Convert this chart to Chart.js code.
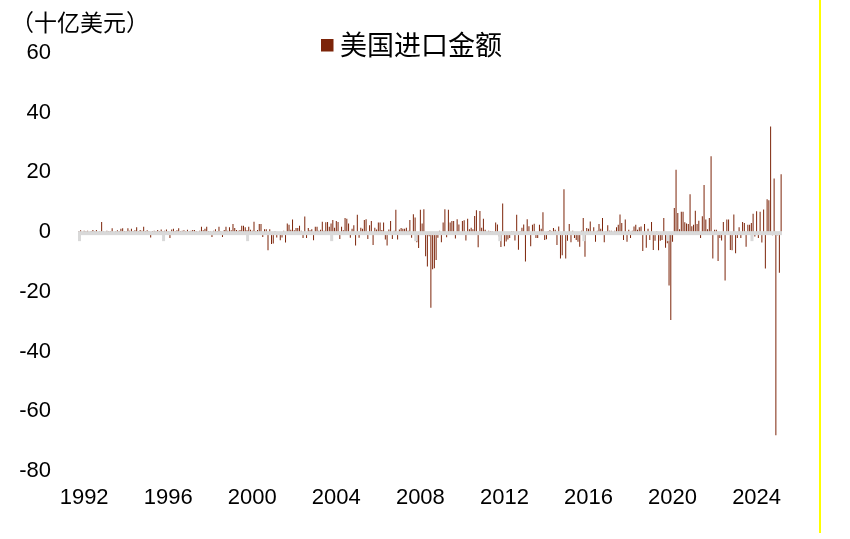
<!DOCTYPE html>
<html>
<head>
<meta charset="utf-8">
<script src="https://cdn.jsdelivr.net/npm/chart.js@4/dist/chart.umd.min.js"></script>
<style>
  html, body { margin: 0; padding: 0; background: #fff; }
  canvas { display: block; }
</style>
</head>
<body>
<canvas id="chart" width="850" height="539"></canvas>
<script>
// monthly change of US imports, billion USD
const imports1990s = [
  0.4, 0.6, -0.2, 0.5, 0.3, 0.5, -0.3, 0.4, 0.7, 0.3, 0.7, -0.3,   // 1992
  0.3, 3.4, 0.2, -0.4, 0.5, 0.3, 0.4, 1.3, -0.3, 0.3, 0.6, 0.4,    // 1993
  1.1, 1.3, 0.4, 0.3, 1.3, 0.5, 1.1, 0.4, 0.6, 1.6, 0.3, 0.7,      // 1994
  0.5, 1.8, 0.4, 0.6, 0.3, -1.8, 0.4, 0.5, 0.3, 0.7, 0.4, 0.9,     // 1995
  0.4, 0.5, 0.9, 0.3, -2.0, 0.9, 1.1, 0.4, 0.6, 1.3, 0.4, 0.5,     // 1996
  0.6, 0.4, 0.8, 0.3, 0.5, 0.7, 0.7, 0.4, -0.3, 0.5, 1.8, 0.6,     // 1997
  1.1, 1.8, 0.4, 0.3, -1.6, 0.5, 1.0, 0.4, 1.8, 0.3, -1.6, 0.7,    // 1998
  1.8, 0.5, 1.6, 0.6, 2.7, 1.4, 0.7, 0.5, 0.7, 2.1, 2.1, 1.6       // 1999
];
const imports2000s = [
  0.6, 1.8, 0.8, 0.5, 3.5, 0.4, 0.7, 2.7, 2.7, -1.6, 1.0, 1.0,             // 2000
  -6.1, 1.0, -4.0, -3.8, 0.3, -1.8, -0.5, -2.7, -1.8, 0.5, -3.5, 2.9,      // 2001
  2.5, 0.8, 4.2, 0.6, 1.4, 1.4, 2.1, 0.5, -2.0, 5.2, -2.0, 1.4,            // 2002
  0.6, 1.0, -2.7, 1.8, 1.8, 0.5, 0.8, 3.5, 0.5, 3.3, 3.4, 1.8,             // 2003
  2.9, 4.1, 1.5, 3.7, 3.4, -2.3, 1.8, 0.6, 4.7, 4.5, 2.9, -1.9,            // 2004
  1.1, 2.3, -4.5, 5.8, -1.9, 1.5, 1.1, 4.1, 4.3, -2.3, 2.3, 3.7,           // 2005
  -4.3, 1.5, 0.9, 3.2, 3.2, 0.7, 3.2, -2.5, -4.5, 0.9, 3.7, -2.3,          // 2006
  0.5, 7.5, -2.5, 0.9, 1.4, 1.1, 1.1, 1.5, 0.5, 4.1, -1.9, 6.0,            // 2007
  4.9, -3.4, -5.3, 7.5, 2.9, 7.7, -8.1, -11.5, -1.4, -25.3, -12.4, -12.1,  // 2008
  -9.3, -1.9, 0.5, -3.4, 3.2, 7.7, -1.7, 7.5, 3.2, 3.7, 3.7, -2.1          // 2009
];
const imports2010s = [
  4.3, 2.6, -0.8, 3.7, 4.0, -2.8, 4.5, 1.0, 1.5, 1.0, 5.4, 7.3,            // 2010
  -5.1, 7.1, 1.5, 4.5, 0.8, -0.3, 0.5, 0.4, 0.3, -0.5, 3.2, 2.6,           // 2011
  -1.5, -5.0, 9.6, -4.7, -3.1, -2.5, -2.0, 0.3, 0.3, -2.8, 5.8, -5.9,      // 2012
  0.3, 1.5, 2.6, -9.8, 4.3, 2.0, -4.7, 2.5, 2.8, -2.0, -2.0, 2.5,          // 2013
  1.1, 6.7, -2.6, -2.4, 0.4, 0.6, 0.4, 1.4, 0.8, -4.3, 1.9, -8.8,          // 2014
  -7.7, 14.4, -8.8, -2.9, 2.7, -3.4, 0.5, -2.0, -2.6, -3.2, -4.9, 0.5,     // 2015
  4.7, -8.2, 1.4, 1.1, 3.6, 0.2, 1.6, -3.2, 0.5, 2.7, 1.1, 4.7,            // 2016
  -3.4, 0.2, 2.3, 0.5, 0.5, -0.3, 0.5, 1.6, 2.5, 5.9, 3.1, -2.6,           // 2017
  4.2, -3.2, 0.8, -2.0, 0.5, 1.9, 2.5, 0.8, 1.6, 1.9, -6.3, 2.7,           // 2018
  -5.2, 1.1, -2.6, 3.4, -6.0, -2.9, 0.3, -6.1, -2.9, -2.6, 4.7, -5.2       // 2019
];
const imports2020s = [
  -3.7, -17.9, -29.4, -3.2, 8.1, 20.9, 6.4, 1.0, 6.8, 6.8, 3.3, 2.9,       // 2020
  2.7, 12.7, 2.0, 2.5, 7.2, 2.7, 3.8, -2.0, 5.3, 15.8, 4.2, 1.0,           // 2021
  4.7, 25.4, -8.8, 0.8, 0.8, -9.7, -2.0, -2.8, 3.4, -16.2, 4.2, 4.2,       // 2022
  -6.0, -6.1, 5.9, -7.1, -2.0, 1.6, -2.0, 3.4, 3.1, -4.9, 2.5, 2.5,        // 2023
  3.1, 6.2, -1.5, 7.0, -2.0, 6.8, -3.5, 7.6, -12.2, 11.0, 10.7, 35.4,      // 2024
  -1.0, 18.0, -68.0, -1.0, -13.6, 19.4                                     // 2025 H1
];

const firstYear = 1992;
const yearTicks = ['1992', '1996', '2000', '2004', '2008', '2012', '2016', '2020', '2024'];
const yTicks = [-80, -60, -40, -20, 0, 20, 40, 60];

const values = [...imports1990s, ...imports2000s, ...imports2010s, ...imports2020s];
const labels = values.map((v, i) => {
	const yr = firstYear + Math.floor(i / 12);
	const m = (i % 12) + 1;
	return yr + '-' + (m < 10 ? '0' + m : m);
});

const barColor = '#7c2409';
const numFont = { family: '"Liberation Sans", Arial, sans-serif', size: 22 };
const cjkFont = '"Noto Sans CJK SC", "Noto Sans", sans-serif';

// zero line with 4-year ticks, unit, legend and the yellow rule on the right
const decor = {
	id: 'decor',
	afterDatasetsDraw(chart) {
		const { ctx, chartArea, scales } = chart;
		const y0 = scales.y.getPixelForValue(0);
		const slot = (chartArea.right - chartArea.left) / labels.length;
		ctx.save();
		ctx.fillStyle = '#d9d9d9';
		ctx.fillRect(chartArea.left, y0 - 1, chartArea.right - chartArea.left, 4);
		labels.forEach((lab, i) => {
			if (lab.endsWith('-01') && yearTicks.includes(lab.slice(0, 4))) {
				ctx.fillRect(scales.x.getPixelForValue(i) - slot / 2, y0, 3, 9);
			}
		});
		ctx.restore();
	},
	afterDraw(chart) {
		const ctx = chart.ctx;
		ctx.save();
		ctx.fillStyle = '#000';
		ctx.textBaseline = 'middle';
		ctx.textAlign = 'left';
		ctx.font = '23px ' + cjkFont;
		ctx.fillText('（十亿美元）', 11, 22);

		ctx.fillStyle = barColor;
		ctx.fillRect(321, 39, 12.5, 12.5);
		ctx.fillStyle = '#000';
		ctx.font = '27px ' + cjkFont;
		ctx.fillText(chart.data.datasets[0].label, 340, 45);

		ctx.fillStyle = '#ffff00';
		ctx.fillRect(819, 0, 2, 533);
		ctx.restore();
	}
};

const ctx = document.getElementById('chart').getContext('2d');
const chart = new Chart(ctx, {
	type: 'bar',
	data: {
		labels: labels,
		datasets: [{
			label: '美国进口金额',
			data: values,
			backgroundColor: barColor,
			borderWidth: 0,
			inflateAmount: 0,
			barThickness: 1
		}]
	},
	options: {
		responsive: false,
		devicePixelRatio: 1,
		animation: false,
		layout: {
			padding: { left: 18, right: 68, top: 53, bottom: 22 }
		},
		plugins: {
			legend: { display: false },
			tooltip: { enabled: false }
		},
		scales: {
			x: {
				grid: { display: false, drawTicks: false },
				border: { display: false },
				ticks: {
					autoSkip: false,
					maxRotation: 0,
					minRotation: 0,
					padding: 14,
					color: '#000',
					font: numFont,
					callback: function(v) {
						const lab = this.getLabelForValue(v);
						const yr = lab.slice(0, 4);
						return (lab.endsWith('-04') && yearTicks.includes(yr)) ? yr : '';
					}
				},
				afterFit: (scale) => { scale.height = 46; }
			},
			y: {
				min: yTicks[0],
				max: yTicks[yTicks.length - 1],
				grid: { display: false, drawTicks: false },
				border: { display: false },
				ticks: {
					stepSize: 20,
					padding: 27,
					color: '#000',
					font: numFont
				},
				afterFit: (scale) => { scale.width = 60; }
			}
		}
	},
	plugins: [decor]
});
</script>
</body>
</html>
